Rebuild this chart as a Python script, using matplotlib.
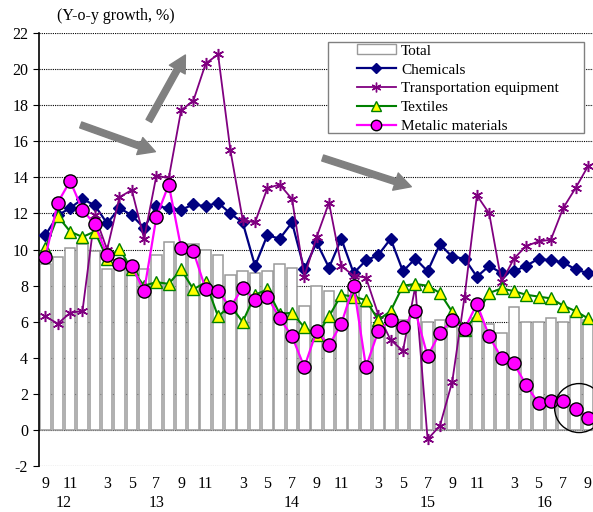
import matplotlib
matplotlib.use("Agg")
import matplotlib.pyplot as plt
from matplotlib.patches import Rectangle, Ellipse
from matplotlib.lines import Line2D
import numpy as np

plt.rcParams['font.family'] = ['Liberation Serif', 'DejaVu Serif']

# ---- data (Sep 2012 .. Sep 2016, Jan-Feb combined) ----
month_labels = ['9', '', '11', '', '', '3', '', '5', '', '7', '', '9', '', '11', '',
                '', '3', '', '5', '', '7', '', '9', '', '11', '',
                '', '3', '', '5', '', '7', '', '9', '', '11', '',
                '', '3', '', '5', '', '7', '', '9']
year_labels = ['12', '13', '14', '15', '16']
year_counts = [4, 11, 11, 11, 8]

total = [9.2, 9.6, 10.1, 10.3, 9.9, 8.9, 9.3, 9.2, 8.9, 9.7, 10.4, 10.2, 10.3, 10.0, 9.7,
         8.6, 8.8, 8.7, 8.8, 9.2, 9.0, 6.9, 8.0, 7.7, 7.2, 7.9,
         6.8, 5.6, 5.9, 6.1, 6.8, 6.0, 6.1, 5.7, 5.6, 6.2, 5.9,
         5.4, 6.8, 6.0, 6.0, 6.2, 6.0, 6.3, 6.1]
chemicals = [10.8, 11.9, 12.3, 12.8, 12.45, 11.45, 12.3, 11.9, 11.2, 12.4, 12.3, 12.2, 12.5, 12.4, 12.6,
             12.0, 11.5, 9.1, 10.8, 10.6, 11.5, 8.9, 10.4, 9.0, 10.6, 8.7,
             9.4, 9.7, 10.6, 8.8, 9.5, 8.8, 10.3, 9.6, 9.5, 8.5, 9.1,
             8.7, 8.8, 9.1, 9.5, 9.4, 9.3, 8.9, 8.7]
transport = [6.3, 5.9, 6.5, 6.6, 11.9, 10.0, 12.9, 13.3, 10.6, 14.1, 13.95, 17.7, 18.25, 20.3, 20.8,
             15.5, 11.65, 11.5, 13.4, 13.6, 12.8, 8.5, 10.7, 12.6, 9.1, 8.55,
             8.45, 6.4, 5.0, 4.4, 7.95, -0.5, 0.25, 2.7, 7.4, 13.0, 12.0,
             8.2, 9.5, 10.2, 10.45, 10.55, 12.3, 13.4, 14.6]
textiles = [10.1, 11.85, 11.0, 10.7, 11.0, 9.5, 10.05, 8.9, 8.0, 8.2, 8.1, 8.9, 7.8, 8.2, 6.3,
            6.9, 6.0, 7.5, 7.8, 6.45, 6.5, 5.7, 5.25, 6.3, 7.5, 7.4,
            7.2, 6.1, 6.6, 8.0, 8.1, 8.0, 7.6, 6.55, 5.55, 6.4, 7.6,
            7.85, 7.7, 7.5, 7.4, 7.3, 6.9, 6.6, 6.2]
metals = [9.6, 12.6, 13.8, 12.2, 11.4, 9.7, 9.2, 9.1, 7.7, 11.8, 13.6, 10.1, 9.9, 7.8, 7.7,
          6.8, 7.9, 7.2, 7.4, 6.2, 5.2, 3.5, 5.5, 4.7, 5.9, 8.0,
          3.5, 5.5, 6.1, 5.7, 6.6, 4.1, 5.4, 6.1, 5.6, 7.0, 5.2,
          4.0, 3.7, 2.5, 1.5, 1.6, 1.6, 1.2, 0.7]

x = np.arange(len(total))

fig = plt.figure(figsize=(5.93, 5.12), dpi=100)
ax = fig.add_axes([0.0663, 0.089, 0.9354, 0.847])

# grid
for v in range(-2, 23, 2):
    ax.axhline(v, color='black', lw=0.8, ls=(0, (1, 1)), zorder=0.5)

ax.bar(x, total, width=0.85, color='white', edgecolor='#9a9a9a', lw=1.1, zorder=1)

ax.plot(x, chemicals, color='#000080', lw=1.6, marker='D', ms=6.5,
        mfc='#000080', mec='#000080', zorder=3)
ax.plot(x, transport, color='#800080', lw=1.3, marker=(6, 2, 0), ms=8,
        mfc='#800080', mec='#800080', mew=1.1, zorder=4)
ax.plot(x, textiles, color='#008000', lw=1.5, marker='^', ms=8.5,
        mfc='#FFFF00', mec='#008000', mew=1.0, zorder=5)
ax.plot(x, metals, color='#FF00FF', lw=1.6, marker='o', ms=9.5,
        mfc='#FF00FF', mec='black', mew=1.0, zorder=6)

ax.set_xlim(-0.5, 44.5)
ax.set_ylim(-2, 22)
ax.set_yticks(range(-2, 23, 2))
ax.set_yticklabels([str(v) for v in range(-2, 23, 2)])
ax.set_xticks(x)
ax.set_xticklabels(month_labels)
ax.tick_params(axis='x', length=0, pad=7, labelsize=11.5)
ax.tick_params(axis='y', length=4, width=0.8, pad=4, labelsize=11.5, direction='out')
for s in ['top', 'right', 'bottom']:
    ax.spines[s].set_visible(False)
ax.spines['left'].set_linewidth(1.2)

# year labels centred under each year group
start = 0
for lab, n in zip(year_labels, year_counts):
    c = start + (n - 1) / 2.0
    ax.text(c, -0.085, lab, transform=ax.get_xaxis_transform(), ha='center',
            va='center', fontsize=11.5)
    start += n

fig.text(0.196, 0.968, '(Y-o-y growth, %)', ha='center', va='center', fontsize=11.5)

# arrows
arrow_kw = dict(arrowstyle='simple,head_length=1.2,head_width=1.3,tail_width=0.45',
                color='#808080', shrinkA=0, shrinkB=0, mutation_scale=10)
ax.annotate('', xy=(8.92, 15.42), xytext=(2.86, 16.9), arrowprops=arrow_kw, zorder=7)
ax.annotate('', xy=(11.35, 20.77), xytext=(8.38, 17.12), arrowprops=arrow_kw, zorder=7)
ax.annotate('', xy=(29.68, 13.48), xytext=(22.49, 15.07), arrowprops=arrow_kw, zorder=7)

# circle highlight
ax.add_patch(Ellipse((43.29, 1.23), 3.97, 2.71, fill=False, edgecolor='black',
                     lw=1.0, zorder=8, clip_on=False))

# legend box
ax.add_patch(Rectangle((0.52, 0.768), 0.4625, 0.211, transform=ax.transAxes,
                       facecolor='white', edgecolor='#808080', lw=1.0, zorder=9))
handles = [
    Rectangle((0, 0), 1, 1, facecolor='white', edgecolor='#9a9a9a', lw=1.0),
    Line2D([], [], color='#000080', lw=1.6, marker='D', ms=5.5, mfc='#000080', mec='#000080'),
    Line2D([], [], color='#800080', lw=1.3, marker=(6, 2, 0), ms=7, mfc='#800080', mec='#800080'),
    Line2D([], [], color='#008000', lw=1.5, marker='^', ms=7, mfc='#FFFF00', mec='#008000'),
    Line2D([], [], color='#FF00FF', lw=1.6, marker='o', ms=7.5, mfc='#FF00FF', mec='black'),
]
labels = ['Total', 'Chemicals', 'Transportation equipment', 'Textiles', 'Metalic materials']
leg = ax.legend(handles, labels, loc='upper left', bbox_to_anchor=(0.572, 0.973),
                frameon=False, fontsize=11, handlelength=2.6, handleheight=0.6,
                handletextpad=0.3, labelspacing=0.37, borderpad=0.0, borderaxespad=0.0)
leg.set_zorder(10)

fig.savefig('out.png', dpi=100)
